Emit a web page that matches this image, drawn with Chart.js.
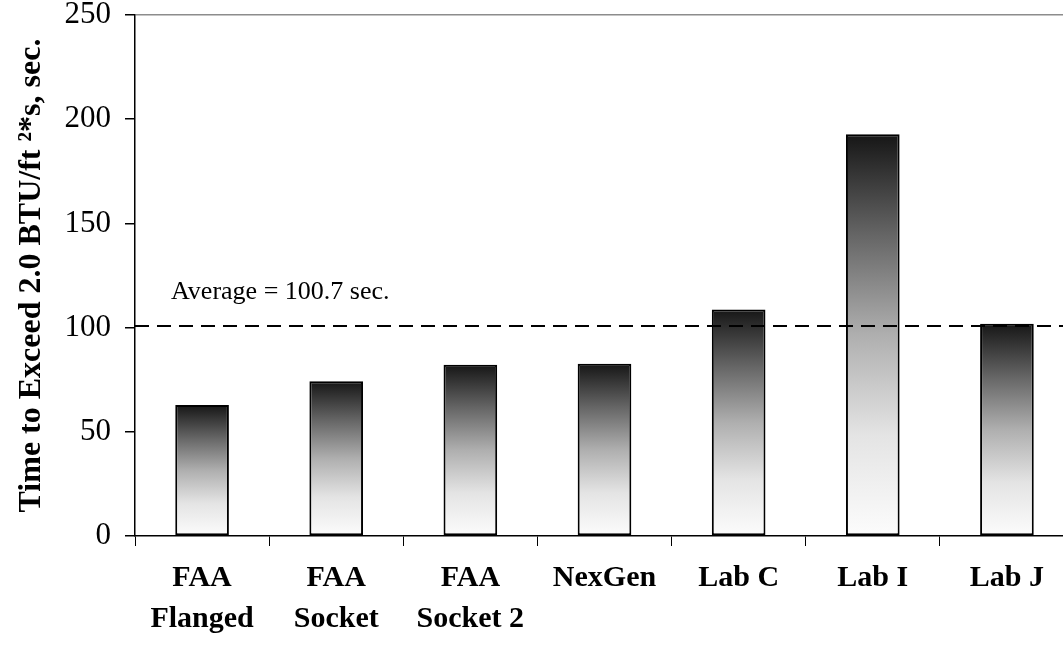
<!DOCTYPE html>
<html>
<head>
<meta charset="utf-8">
<script src="https://cdn.jsdelivr.net/npm/chart.js@4.4.0/dist/chart.umd.min.js"></script>
<style>
  html, body { margin: 0; padding: 0; background: #fff; overflow: hidden; }
  #wrap { width: 1063px; height: 646px; overflow: hidden; }
  canvas { display: block; }
</style>
</head>
<body>
<div id="wrap"><canvas id="myChart" width="1074" height="646"></canvas></div>
<script>
// labs and time to exceed 2.0 BTU/ft2*s (sec.)
const labels = [
  ["FAA", "Flanged"],
  ["FAA", "Socket"],
  ["FAA", "Socket 2"],
  "NexGen",
  "Lab C",
  "Lab I",
  "Lab J"
];
const times = [62.8, 74.2, 82.2, 82.6, 108.7, 192.8, 101.9];
const yTicks = [0, 50, 100, 150, 200, 250];

const average = times.reduce((a, b) => a + b, 0) / times.length;

const serif = "'Liberation Serif', 'Times New Roman', serif";

// gradient per bar: dark on top, fading to white at the base
const barFill = (context) => {
  const chart = context.chart;
  const { ctx, chartArea, scales } = chart;
  if (!chartArea || context.type !== "data") return "#888";
  const top = scales.y.getPixelForValue(context.raw);
  const bottom = scales.y.getPixelForValue(0);
  const g = ctx.createLinearGradient(0, top, 0, bottom);
  g.addColorStop(0, "#161616");
  g.addColorStop(0.25, "#656565");
  g.addColorStop(0.5, "#afafaf");
  g.addColorStop(0.75, "#e4e4e4");
  g.addColorStop(1, "#fcfcfc");
  return g;
};

// dashed average line + its text
const averageLine = {
  id: "averageLine",
  afterDatasetsDraw(chart) {
    const { ctx, chartArea, scales } = chart;
    const y = scales.y.getPixelForValue(average);
    ctx.save();
    ctx.strokeStyle = "#000";
    ctx.lineWidth = 2;
    ctx.setLineDash([14, 8]);
    ctx.beginPath();
    ctx.moveTo(chartArea.left, y);
    ctx.lineTo(chartArea.right, y);
    ctx.stroke();
    ctx.setLineDash([]);
    ctx.fillStyle = "#000";
    ctx.font = "26px " + serif;
    ctx.textBaseline = "alphabetic";
    ctx.fillText("Average = " + average.toFixed(1) + " sec.", chartArea.left + 36, y - 27);
    ctx.restore();
  }
};

const myChart = new Chart(document.getElementById("myChart"), {
  type: "bar",
  data: {
    labels: labels,
    datasets: [{
      data: times,
      backgroundColor: barFill,
      borderColor: "#000",
      borderWidth: 2,
      borderSkipped: false,
      barPercentage: 0.4,
      categoryPercentage: 1
    }]
  },
  options: {
    responsive: false,
    animation: false,
    layout: { padding: { top: 15, right: 0, left: 0, bottom: 0 } },
    plugins: {
      legend: { display: false },
      tooltip: { enabled: false }
    },
    scales: {
      x: {
        offset: true,
        grid: {
          offset: true,
          color: "transparent",
          tickColor: "#000",
          tickLength: 10,
          tickWidth: 1
        },
        border: { color: "#000", width: 1.5 },
        ticks: {
          color: "#000",
          padding: 12,
          maxRotation: 0,
          autoSkip: false,
          font: { family: serif, size: 30, weight: "bold", lineHeight: 1.35 }
        },
        afterFit(scale) { scale.height = 110; }
      },
      y: {
        min: 0,
        max: 250,
        afterBuildTicks(scale) { scale.ticks = yTicks.map(v => ({ value: v })); },
        grid: {
          color: (c) => (c.tick && c.tick.value === 250 ? "#8c8c8c" : "transparent"),
          tickColor: "#000",
          tickLength: 10,
          lineWidth: 1.5
        },
        border: { color: "#000", width: 1.5 },
        ticks: {
          color: "#000",
          padding: 14,
          font: { family: serif, size: 31 }
        },
        title: {
          display: true,
          text: "Time to Exceed 2.0 BTU/ft \u00b2*s, sec.",
          color: "#000",
          padding: { top: 13, bottom: 0 },
          font: { family: serif, size: 32, weight: "bold" }
        },
        afterFit(scale) {
          scale.width = 135;
          scale.paddingTop = 0;
          scale.paddingBottom = 0;
        }
      }
    }
  },
  plugins: [averageLine]
});
</script>
</body>
</html>
